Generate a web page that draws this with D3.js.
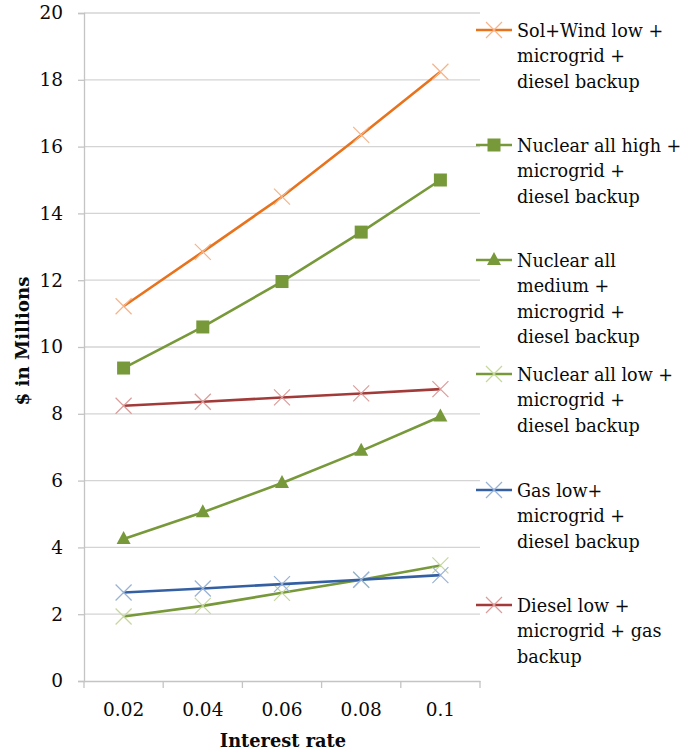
<!DOCTYPE html>
<html>
<head>
<meta charset="utf-8">
<script src="https://cdn.jsdelivr.net/npm/d3@7"></script>
<style>
  html, body { margin: 0; padding: 0; background: #fff; }
  svg { display: block; }
  text { font-family: "DejaVu Serif", "Liberation Serif", serif; fill: #0a0a0a; }
</style>
</head>
<body>
<svg id="chart" width="685" height="752"></svg>
<script>
// Interest rates along the x axis
const rates = ["0.02", "0.04", "0.06", "0.08", "0.1"];
const yTicks = [0, 2, 4, 6, 8, 10, 12, 14, 16, 18, 20];

// Cost in $ millions for each scenario
const solWindLow   = [11.22, 12.85, 14.5, 16.35, 18.24];
const nuclearHigh  = [9.37, 10.6, 11.96, 13.44, 15.0];
const nuclearMed   = [4.25, 5.05, 5.93, 6.89, 7.92];
const nuclearLow   = [1.93, 2.25, 2.64, 3.03, 3.46];
const gasLow       = [2.65, 2.77, 2.9, 3.03, 3.17];
const dieselLow    = [8.24, 8.36, 8.49, 8.61, 8.74];

const seriesNames = [
  ["Sol+Wind low +", "microgrid +", "diesel backup"],
  ["Nuclear all high +", "microgrid +", "diesel backup"],
  ["Nuclear all", "medium +", "microgrid +", "diesel backup"],
  ["Nuclear all low +", "microgrid +", "diesel backup"],
  ["Gas low+", "microgrid +", "diesel backup"],
  ["Diesel low +", "microgrid + gas", "backup"]
];

const series = [
  { values: solWindLow,  line: "#E8731C", marker: "x",        mark: "#F5B48A" },
  { values: nuclearHigh, line: "#77993A", marker: "square",   mark: "#77993A" },
  { values: nuclearMed,  line: "#77993A", marker: "triangle", mark: "#77993A" },
  { values: nuclearLow,  line: "#77993A", marker: "x",        mark: "#C4D79C" },
  { values: gasLow,      line: "#3460A3", marker: "x",        mark: "#98B2D6" },
  { values: dieselLow,   line: "#A13A38", marker: "x",        mark: "#DB9C9A" }
];

const svg = d3.select("#chart");
const plotLeft = 84, plotRight = 480, plotTop = 13, plotBottom = 681;

const x = d3.scaleBand().domain(rates).range([plotLeft, plotRight]);
const y = d3.scaleLinear().domain([0, 20]).range([plotBottom, plotTop]);

// Horizontal gridlines
svg.append("g").selectAll("line").data(yTicks.slice(1)).join("line")
  .attr("x1", plotLeft).attr("x2", plotRight)
  .attr("y1", d => y(d)).attr("y2", d => y(d))
  .attr("stroke", "#d4d4d4").attr("stroke-width", 1.3);

// Y axis
const yAxis = svg.append("g").attr("transform", `translate(${plotLeft},0)`)
  .call(d3.axisLeft(y).tickValues(yTicks).tickSize(6).tickPadding(15).tickFormat(d3.format("d")));
yAxis.select(".domain").attr("stroke", "#c4c4c4").attr("stroke-width", 1.3);
yAxis.selectAll(".tick line").attr("stroke", "#c4c4c4").attr("stroke-width", 1.3);
yAxis.selectAll(".tick text").attr("font-size", 18.5).attr("fill", "#0a0a0a")
  .style("font-family", "'DejaVu Serif', serif");

// X axis with ticks at category boundaries
const xAxis = svg.append("g").attr("transform", `translate(0,${plotBottom})`)
  .call(d3.axisBottom(x).tickSize(0).tickPadding(22));
xAxis.select(".domain").attr("stroke", "#c4c4c4").attr("stroke-width", 1.3);
xAxis.selectAll(".tick text").attr("font-size", 18.5).attr("fill", "#0a0a0a")
  .style("font-family", "'DejaVu Serif', serif");
const bounds = rates.map(r => x(r)).concat([x(rates[rates.length - 1]) + x.bandwidth()]);
svg.append("g").selectAll("line").data(bounds).join("line")
  .attr("x1", d => d).attr("x2", d => d)
  .attr("y1", plotBottom).attr("y2", plotBottom + 7)
  .attr("stroke", "#c4c4c4").attr("stroke-width", 1.3);

// Axis titles
svg.append("text")
  .attr("transform", `translate(29,341) rotate(-90)`)
  .attr("text-anchor", "middle").attr("font-size", 18.2).attr("font-weight", "bold")
  .text("$ in Millions");
svg.append("text")
  .attr("x", 283).attr("y", 747)
  .attr("text-anchor", "middle").attr("font-size", 17.8).attr("font-weight", "bold")
  .text("Interest rate");

const cx = d => x(d) + x.bandwidth() / 2;

function drawMarker(g, kind, color, px, py) {
  if (kind === "x") {
    const s = 8;
    g.append("path")
      .attr("d", `M${px - s},${py - s}L${px + s},${py + s}M${px - s},${py + s}L${px + s},${py - s}`)
      .attr("stroke", color).attr("stroke-width", 1.2).attr("fill", "none");
  } else if (kind === "square") {
    g.append("rect").attr("x", px - 6.5).attr("y", py - 6.5)
      .attr("width", 13).attr("height", 13).attr("fill", color);
  } else if (kind === "triangle") {
    g.append("path")
      .attr("d", `M${px},${py - 8}L${px + 7},${py + 5}L${px - 7},${py + 5}Z`)
      .attr("fill", color);
  }
}

const line = d3.line().x((d, i) => cx(rates[i])).y(d => y(d));

// Series lines and markers
series.forEach(s => {
  const g = svg.append("g");
  g.append("path").datum(s.values).attr("d", line)
    .attr("fill", "none").attr("stroke", s.line).attr("stroke-width", 2.6);
  s.values.forEach((v, i) => drawMarker(g, s.marker, s.mark, cx(rates[i]), y(v)));
});

// Legend
const legendRows = [30, 145, 260, 374, 490, 605];
series.forEach((s, k) => {
  const g = svg.append("g");
  const ly = legendRows[k];
  g.append("line").attr("x1", 476).attr("x2", 512).attr("y1", ly).attr("y2", ly)
    .attr("stroke", s.line).attr("stroke-width", 2.6);
  drawMarker(g, s.marker, s.mark, 494, ly);
  seriesNames[k].forEach((t, j) => {
    g.append("text").attr("x", 517).attr("y", ly + 6.5 + j * 25.5)
      .attr("font-size", 17.6).text(t);
  });
});
</script>
</body>
</html>
